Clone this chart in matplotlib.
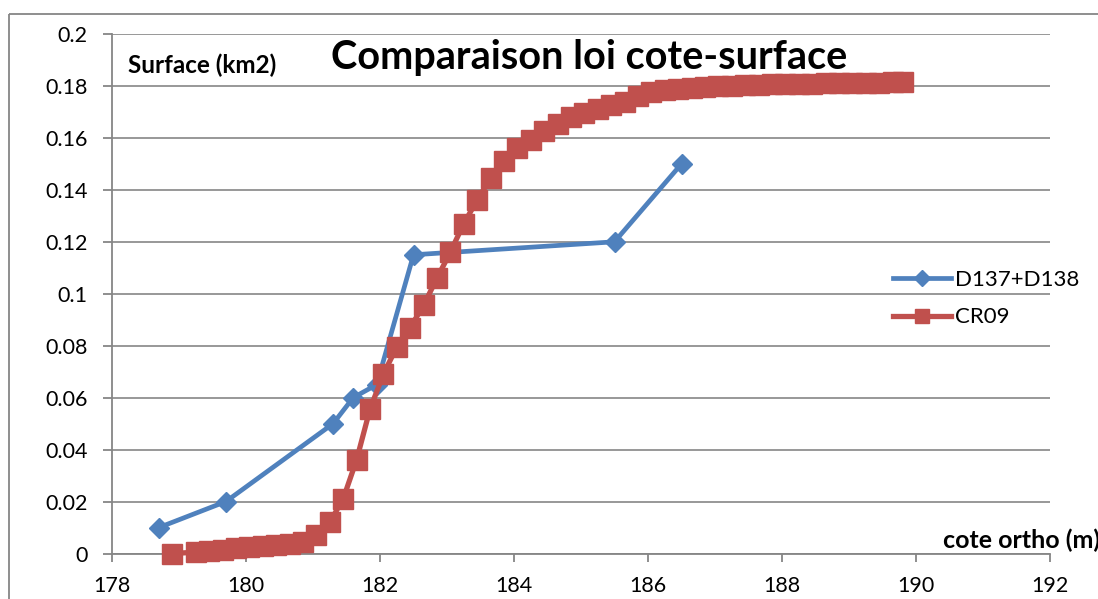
import matplotlib
matplotlib.use("Agg")
import matplotlib.pyplot as plt
from matplotlib.lines import Line2D
from matplotlib.patches import Rectangle
from matplotlib.ticker import FuncFormatter

plt.rcParams['font.family'] = ['Lato', 'DejaVu Sans']

# ---- data ----
blue_x = [178.7, 179.7, 181.3, 181.6, 181.95, 182.5, 185.5, 186.5]
blue_y = [0.010, 0.020, 0.050, 0.060, 0.065, 0.115, 0.120, 0.150]

red_x = [178.9, 179.25, 179.45, 179.65, 179.85, 180.05, 180.25, 180.45, 180.65, 180.85,
         181.05, 181.25, 181.45, 181.65, 181.85, 182.05, 182.25, 182.45, 182.65, 182.85,
         183.05, 183.25, 183.45, 183.65, 183.85, 184.05, 184.25, 184.45, 184.65, 184.85,
         185.05, 185.25, 185.45, 185.65, 185.85, 186.05, 186.25, 186.45, 186.65, 186.85,
         187.05, 187.25, 187.45, 187.65, 187.85, 188.05, 188.25, 188.45, 188.65, 188.85,
         189.05, 189.25, 189.45, 189.65, 189.8]
red_y = [0.000, 0.0005, 0.001, 0.0015, 0.002, 0.0025, 0.003, 0.0033, 0.0038, 0.0045,
         0.007, 0.012, 0.021, 0.036, 0.0555, 0.069, 0.0795, 0.087, 0.0955, 0.106,
         0.116, 0.127, 0.136, 0.1445, 0.151, 0.156, 0.159, 0.1625, 0.1655, 0.168,
         0.1695, 0.171, 0.1725, 0.174, 0.176, 0.1775, 0.1785, 0.179, 0.1793, 0.1796,
         0.1799, 0.1801, 0.1803, 0.1805, 0.1806, 0.1807, 0.1808, 0.1809, 0.181, 0.1811,
         0.1812, 0.1813, 0.1813, 0.1814, 0.1815]

series_names = ["D137+D138", "CR09"]
x_ticks = [178, 180, 182, 184, 186, 188, 190, 192]
y_ticks = [0, 0.02, 0.04, 0.06, 0.08, 0.10, 0.12, 0.14, 0.16, 0.18, 0.20]

BLUE = "#4F81BD"
RED = "#C0504D"
GRID = "#868686"

fig = plt.figure(figsize=(10.98, 5.99), dpi=100)
W, H = 1098, 599

# outer chart border
fig.patches.append(Rectangle((9 / W, 1 - 14 / H), 2, -2, transform=fig.transFigure,
                             fill=False, edgecolor=GRID, linewidth=1.3, zorder=0))

ax = fig.add_axes([112 / W, 1 - 553.5 / H, (1050 - 112) / W, (553.5 - 34) / H])
ax.set_xlim(178, 192)
ax.set_ylim(0, 0.2)
ax.set_xticks(x_ticks)
ax.set_yticks(y_ticks)
ax.yaxis.set_major_formatter(FuncFormatter(lambda v, p: ('%g' % round(v, 2))))
ax.grid(axis='y', color=GRID, linewidth=1.2)
ax.set_axisbelow(True)
for s in ['top', 'right']:
    ax.spines[s].set_visible(False)
for s in ['left', 'bottom']:
    ax.spines[s].set_color(GRID)
    ax.spines[s].set_linewidth(1.3)
ax.tick_params(axis='both', colors=GRID, labelcolor='black', labelsize=15.5, width=1.3)
ax.tick_params(axis='y', length=6.5, pad=11)
ax.tick_params(axis='x', length=6, pad=10)

ax.plot(blue_x, blue_y, color=BLUE, linewidth=3.4, marker='D', markersize=10,
        markerfacecolor=BLUE, markeredgecolor=BLUE, clip_on=False, zorder=3)
ax.plot(red_x, red_y, color=RED, linewidth=3.8, marker='s', markersize=14.5,
        markerfacecolor=RED, markeredgecolor=RED, clip_on=False, zorder=4)

handles = [Line2D([], [], color=BLUE, linewidth=3.4, marker='D', markersize=8,
                  markerfacecolor=BLUE, markeredgecolor=BLUE),
           Line2D([], [], color=RED, linewidth=3.8, marker='s', markersize=10,
                  markerfacecolor=RED, markeredgecolor=RED)]
fig.legend(handles, series_names, loc='center left',
           bbox_to_anchor=(893 / W, 1 - 298.5 / H), frameon=False, fontsize=16,
           handlelength=2.6, handletextpad=0.2, borderpad=0, borderaxespad=0,
           labelspacing=0.8)

fig.text(589 / W, 1 - 57 / H, "Comparaison loi cote-surface", fontsize=28.5,
         fontweight='bold', ha='center', va='center')
fig.text(128 / W, 1 - 65 / H, "Surface (km2)", fontsize=17.5, fontweight='bold',
         ha='left', va='center')
fig.text(943 / W, 1 - 540 / H, "cote ortho (m)", fontsize=18, fontweight='bold',
         ha='left', va='center')

fig.savefig("out.png", dpi=100)
